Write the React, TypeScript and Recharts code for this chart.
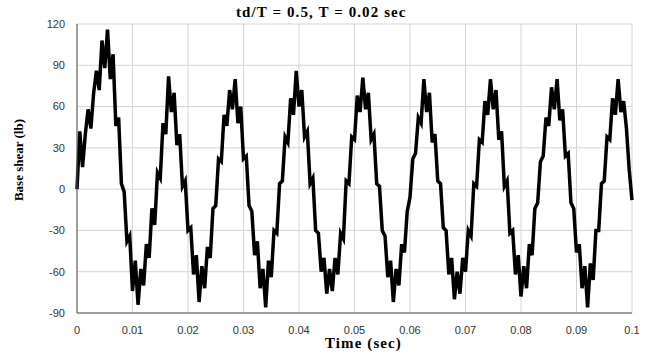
import { LineChart, Line, XAxis, YAxis, CartesianGrid } from "recharts";

// sample spacing of the record (sec)
const STEP = 0.0005;

// base shear (lb), every 0.0005 sec from t = 0 to 0.1
const shear = [
  0, 42, 16, 40, 58, 44, 70, 86, 72, 108,
  88, 116, 80, 98, 46, 52, 4, -2, -38, -34,
  -74, -52, -84, -58, -70, -40, -50, -14, -26, 12,
  8, 48, 40, 82, 56, 70, 32, 40, 2, 6,
  -30, -28, -62, -48, -82, -56, -72, -42, -50, -14,
  -12, 22, 20, 54, 46, 72, 58, 80, 48, 60,
  22, 24, -12, -16, -48, -38, -72, -58, -86, -52,
  -64, -30, -32, 4, 6, 38, 34, 66, 54, 86,
  60, 72, 38, 42, 4, 8, -30, -32, -60, -50,
  -76, -58, -74, -50, -62, -32, -36, 6, 4, 38,
  36, 68, 56, 81, 58, 70, 36, 40, 4, 2,
  -30, -34, -64, -52, -82, -58, -70, -40, -46, -16,
  -6, 22, 26, 52, 48, 80, 56, 70, 34, 40,
  6, 4, -28, -30, -62, -50, -80, -60, -76, -50,
  -60, -30, -34, 4, 2, 36, 34, 64, 54, 80,
  58, 72, 36, 42, 2, 6, -32, -30, -62, -48,
  -78, -56, -72, -40, -48, -14, -10, 20, 24, 52,
  46, 74, 58, 80, 50, 58, 24, 26, -10, -14,
  -46, -40, -72, -56, -86, -54, -66, -30, -30, 4,
  6, 38, 36, 66, 54, 80, 56, 64, 44, 14,
  -8,
];

const xTicks = [0, 0.01, 0.02, 0.03, 0.04, 0.05, 0.06, 0.07, 0.08, 0.09, 0.1];
const xTickLabels = ["0", "0.01", "0.02", "0.03", "0.04", "0.05", "0.06", "0.07", "0.08", "0.09", "0.1"];
const yTicks = [-90, -60, -30, 0, 30, 60, 90, 120];

const data = shear.map((v, i) => ({ t: i * STEP, v }));

const tickStyle = { fontFamily: "Liberation Sans, Arial, sans-serif", fontSize: 11, fill: "#333" };
const labelFont = "Liberation Serif, 'Times New Roman', serif";

export default function App() {
  return (
    <div style={{ position: "absolute", left: 0, top: 0, width: 651, height: 360, background: "#fff" }}>
      <LineChart width={651} height={360} data={data} margin={{ top: 24, right: 19, bottom: 0, left: 30 }}>
        <CartesianGrid stroke="#d4d4d4" />
        <XAxis
          dataKey="t"
          type="number"
          domain={[0, 0.1]}
          ticks={xTicks}
          tickFormatter={(v: number) => xTickLabels[xTicks.indexOf(v)] ?? String(v)}
          tick={tickStyle}
          tickLine={false}
          tickMargin={7}
          stroke="#555"
          height={47}
          interval={0}
        />
        <XAxis xAxisId="top" orientation="top" type="number" domain={[0, 0.1]} tick={false} tickLine={false} stroke="#555" height={0} />
        <YAxis
          type="number"
          domain={[-90, 120]}
          ticks={yTicks}
          tick={tickStyle}
          tickLine={false}
          tickMargin={6}
          stroke="#555"
          width={47}
          interval={0}
        />
        <YAxis yAxisId="right" orientation="right" type="number" domain={[-90, 120]} tick={false} tickLine={false} stroke="#555" width={0} />
        <Line
          dataKey="v"
          type="linear"
          stroke="#000"
          strokeWidth={3.5}
          strokeLinejoin="miter"
          dot={false}
          isAnimationActive={false}
        />
      </LineChart>
      <div
        style={{
          position: "absolute",
          left: 236,
          top: 4,
          fontFamily: labelFont,
          fontWeight: "bold",
          fontSize: 15,
          letterSpacing: 1.1,
          whiteSpace: "nowrap",
        }}
      >
        td/T = 0.5, T = 0.02 sec
      </div>
      <div
        style={{
          position: "absolute",
          left: 325,
          top: 335,
          fontFamily: labelFont,
          fontWeight: "bold",
          fontSize: 15,
          letterSpacing: 1.1,
          whiteSpace: "nowrap",
        }}
      >
        Time (sec)
      </div>
      <div
        style={{
          position: "absolute",
          left: 19,
          top: 160,
          transform: "translate(-50%, -50%) rotate(-90deg)",
          fontFamily: labelFont,
          fontWeight: "bold",
          fontSize: 13,
          whiteSpace: "nowrap",
        }}
      >
        Base shear (lb)
      </div>
    </div>
  );
}
